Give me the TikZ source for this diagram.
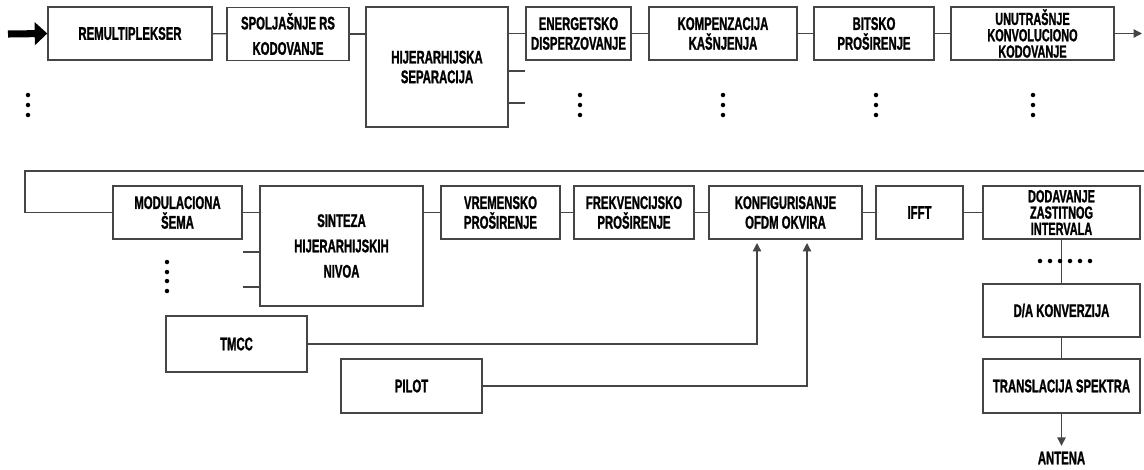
\documentclass[tikz,border=0pt]{standalone}
\usepackage{fontspec}
\setmainfont{Liberation Sans}
\newfontfamily\blockfont[FakeStretch=0.62,FakeBold=1.2]{Liberation Sans}
\usetikzlibrary{arrows.meta,positioning,calc}
\definecolor{edge}{HTML}{454545}

\begin{document}
\begin{tikzpicture}[
  x=0.025cm, y=-0.025cm,
  block/.style={draw=edge, line width=0.9pt, align=center, inner sep=1pt, minimum height=1.325cm, font=\blockfont\bfseries\fontsize{13}{14}\selectfont},
  tight/.style={font=\blockfont\bfseries\fontsize{12.5}{11.6}\selectfont},
  loose/.style={font=\blockfont\bfseries\fontsize{13}{18}\selectfont},
  label/.style={font=\blockfont\bfseries\fontsize{13}{14}\selectfont, inner sep=0pt},
  link/.style={draw=edge, line width=0.9pt},
  flow/.style={link, -{Triangle[length=6pt,width=6pt]}},
  bigflow/.style={draw=black, line width=5pt, -{Triangle[length=9pt,width=16pt]}}
]
\useasboundingbox (0,0) rectangle (1144,469);

% upper chain
\node[block, minimum width=4.1cm] (remux) at (130,33.5) {REMULTIPLEKSER};
\node[block, loose, minimum width=3.05cm] (rs) at (288,34) {SPOLJAŠNJE RS\\KODOVANJE};
\node[block, minimum width=3.55cm, minimum height=3cm] (hsep) at (437,67) {HIJERARHIJSKA\\SEPARACIJA};
\node[block, minimum width=2.625cm] (energ) at (578.5,33.5) {ENERGETSKO\\DISPERZOVANJE};
\node[block, minimum width=3.7cm] (kompen) at (723,33.5) {KOMPENZACIJA\\KAŠNJENJA};
\node[block, minimum width=3cm] (bitsko) at (874,33.5) {BITSKO\\PROŠIRENJE};
\node[block, tight, minimum width=4.075cm] (unutr) at (1032.5,33.5) {UNUTRAŠNJE\\KONVOLUCIONO\\KODOVANJE};

% lower chain
\node[block, minimum width=3.225cm] (modul) at (177.5,212.5) {MODULACIONA\\ŠEMA};
\node[block, loose, minimum width=4.075cm, minimum height=3cm] (sint) at (341.5,246) {SINTEZA\\HIJERARHIJSKIH\\NIVOA};
\node[block, minimum width=2.975cm] (vrem) at (500.5,212.5) {VREMENSKO\\PROŠIRENJE};
\node[block, minimum width=3cm] (frek) at (634,212.5) {FREKVENCIJSKO\\PROŠIRENJE};
\node[block, minimum width=3.825cm] (konf) at (785.5,212.5) {KONFIGURISANJE\\OFDM OKVIRA};
\node[block, minimum width=2.175cm] (ifft) at (919.5,212.5) {IFFT};
\node[block, tight, minimum width=3.925cm] (dodav) at (1061.5,212.5) {DODAVANJE\\ZASTITNOG\\INTERVALA};
\node[block, minimum width=3.925cm] (da) at (1061.5,310.5) {D/A KONVERZIJA};
\node[block, minimum width=3.925cm, minimum height=1.35cm] (trans) at (1061.5,386) {TRANSLACIJA SPEKTRA};
\node[label] (ant) at (1061.5,458) {ANTENA};

% side inputs
\node[block, minimum width=3.525cm, minimum height=1.4cm] (tmcc) at (236.5,344) {TMCC};
\node[block, minimum width=3.525cm, minimum height=1.35cm] (pilot) at (411.5,386) {PILOT};

\coordinate (in) at (8,34);
\coordinate (out) at (1142,33.5);
\coordinate (ret) at (1144,171);
\coordinate (bend) at (25,171);
\coordinate (h2) at (525,71);
\coordinate (h3) at (525,103);
\coordinate (s2) at (243,252);
\coordinate (s3) at (243,287);
\coordinate (k1) at (757,243);
\coordinate (k2) at (807,243);

\draw[bigflow] (in) -- (remux.west);
\draw[link] (remux)--(rs);
\draw[link] (rs.east)--(rs.east -| hsep.west);
\draw[link] (energ.west -| hsep.east)--(energ.west);
\draw[link] (hsep.east |- h2)--(h2);
\draw[link] (hsep.east |- h3)--(h3);
\draw[link] (energ)--(kompen);
\draw[link] (kompen)--(bitsko);
\draw[link] (bitsko)--(unutr);
\draw[flow] (unutr)--(out);

\draw[link] (ret)--(bend) |- (modul.west);
\draw[link] (modul.east)--(modul.east -| sint.west);
\draw[link] (s2)--(s2 -| sint.west);
\draw[link] (s3)--(s3 -| sint.west);
\draw[link] (vrem.west -| sint.east)--(vrem.west);
\draw[link] (vrem)--(frek);
\draw[link] (frek)--(konf);
\draw[link] (konf)--(ifft);
\draw[link] (ifft)--(dodav);
\draw[link] (dodav)--(da);
\draw[link] (da)--(trans);
\draw[flow, shorten >=4pt] (trans)--(ant);

\draw[flow] (tmcc.east) -| (k1);
\draw[flow] (pilot.east) -| (k2);

% continuation marks
\foreach \x in {28,580,723,876,1033}
  \foreach \y in {95,105,115}
    \fill (\x,\y) circle (1.6pt);
\foreach \y in {262,272,281,291}
  \fill (167,\y) circle (1.6pt);
\foreach \x in {1040,1050,1060,1070,1080,1090}
  \fill (\x,261) circle (1.6pt);
\end{tikzpicture}
\end{document}
